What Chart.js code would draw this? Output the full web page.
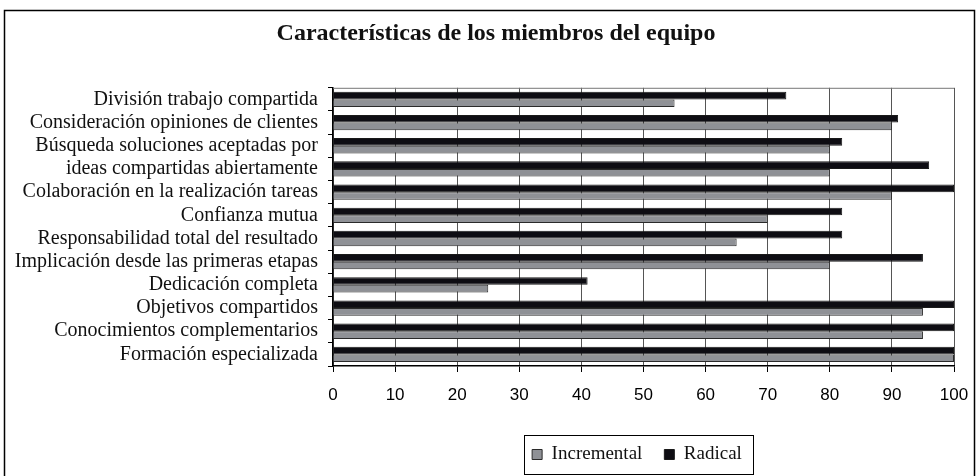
<!DOCTYPE html>
<html>
<head>
<meta charset="utf-8">
<script src="https://cdn.jsdelivr.net/npm/chart.js@4.4.0/dist/chart.umd.min.js"></script>
<style>
    html, body { margin: 0; padding: 0; background: #fff; }
    #wrap { width: 979px; height: 476px; }
</style>
</head>
<body>
<div id="wrap"><canvas id="grafico" width="979" height="476"></canvas></div>
<script>
const categorias = [
    'División trabajo compartida',
    'Consideración opiniones de clientes',
    'Búsqueda soluciones aceptadas por',
    'ideas compartidas abiertamente',
    'Colaboración en la realización tareas',
    'Confianza mutua',
    'Responsabilidad total del resultado',
    'Implicación desde las primeras etapas',
    'Dedicación completa',
    'Objetivos compartidos',
    'Conocimientos complementarios',
    'Formación especializada'
];
const incremental = [55, 90, 80, 80, 90, 70, 65, 80, 25, 95, 95, 100];
const radical = [73, 91, 82, 96, 100, 82, 82, 95, 41, 100, 100, 100];
const ejeX = { min: 0, max: 100, paso: 10 };

const SERIF = '"Liberation Serif", "Times New Roman", serif';
const SANS = '"Liberation Sans", Arial, sans-serif';

// marco exterior, borde superior del área de trazado y caja de la leyenda
const marco = {
    id: 'marco',
    afterLayout(chart) {
        // título y leyenda del original están desplazados a la derecha
        chart.titleBlock.left += 13;
        chart.titleBlock.right += 13;
        chart.legend.left += 154;
        chart.legend.right += 154;
    },
    beforeDraw(chart) {
        const c = chart.ctx;
        c.save();
        c.fillStyle = '#fff';
        c.fillRect(0, 0, chart.width, chart.height);
        c.strokeStyle = '#000';
        c.lineWidth = 1.5;
        c.strokeRect(4.5, 10.5, chart.width - 9, chart.height);
        c.restore();
    },
    beforeDatasetsDraw(chart) {
        const a = chart.chartArea, c = chart.ctx;
        c.save();
        c.strokeStyle = '#777';
        c.lineWidth = 1;
        c.beginPath();
        c.moveTo(a.left, a.top + 0.5);
        c.lineTo(a.right, a.top + 0.5);
        c.stroke();
        c.restore();
    },
    afterDraw(chart) {
        const cajas = chart.legend.legendHitBoxes;
        if (!cajas || !cajas.length) return;
        let x1 = Infinity, y1 = Infinity, x2 = -Infinity, y2 = -Infinity;
        cajas.forEach(h => {
            x1 = Math.min(x1, h.left); y1 = Math.min(y1, h.top);
            x2 = Math.max(x2, h.left + h.width); y2 = Math.max(y2, h.top + h.height);
        });
        const c = chart.ctx;
        c.save();
        c.strokeStyle = '#000';
        c.lineWidth = 1;
        c.strokeRect(Math.round(x1 - 8) + 0.5, Math.round(y1 - 10) + 0.5, Math.round(x2 - x1 + 19), Math.round(y2 - y1 + 20));
        c.restore();
    }
};

new Chart(document.getElementById('grafico'), {
    type: 'bar',
    data: {
        labels: categorias,
        datasets: [
            { label: 'Radical', data: radical, backgroundColor: '#0e0d13', borderColor: '#1a1a1a', borderWidth: 1 },
            { label: 'Incremental', data: incremental, backgroundColor: '#8f9196', borderColor: '#2a2a2a', borderWidth: 1 }
        ]
    },
    options: {
        indexAxis: 'y',
        responsive: false,
        animation: false,
        devicePixelRatio: 1,
        categoryPercentage: 0.66,
        barPercentage: 1,
        layout: { padding: { top: 10, left: 12, right: 25, bottom: 2 } },
        plugins: {
            tooltip: { enabled: false },
            title: {
                display: true,
                text: 'Características de los miembros del equipo',
                color: '#111',
                font: { family: SERIF, size: 24, weight: 'bold' },
                padding: { top: 9, bottom: 40 }
            },
            legend: {
                position: 'bottom',
                reverse: true,
                labels: {
                    color: '#111',
                    font: { family: SERIF, size: 19 },
                    boxWidth: 10,
                    boxHeight: 10,
                    padding: 22
                }
            }
        },
        scales: {
            x: {
                min: ejeX.min,
                max: ejeX.max,
                ticks: { stepSize: ejeX.paso, color: '#000', font: { family: SANS, size: 17 }, padding: 13 },
                grid: { color: '#555', lineWidth: 1, tickLength: 6, tickColor: '#000' },
                border: { color: '#000', width: 1.5 },
                afterFit(scale) {
                    scale.height = 57;
                    scale.paddingRight = 0;
                }
            },
            y: {
                ticks: { color: '#111', font: { family: SERIF, size: 20 }, padding: 10, autoSkip: false },
                grid: { drawOnChartArea: false, tickLength: 5, color: '#000' },
                border: { color: '#000', width: 1.5 },
                afterFit(scale) { scale.width = 321; }
            }
        }
    },
    plugins: [marco]
});
</script>
</body>
</html>
